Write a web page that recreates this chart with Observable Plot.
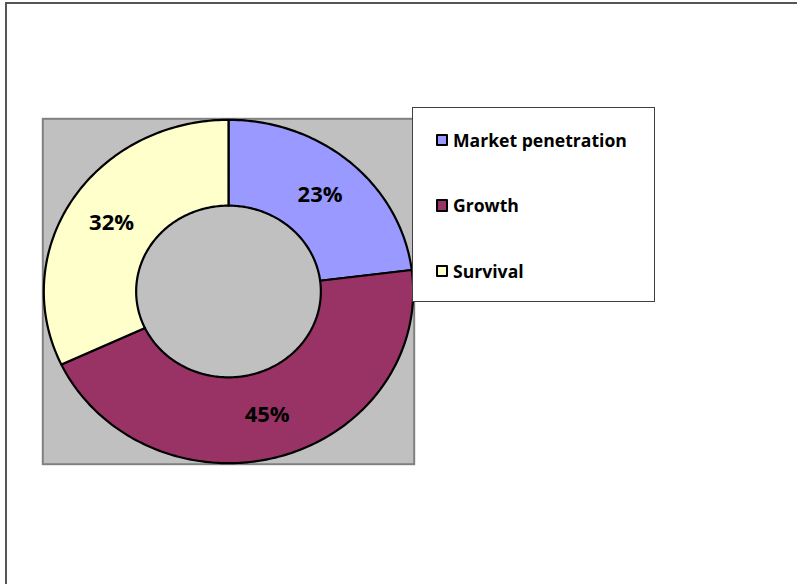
<!DOCTYPE html>
<html>
<head>
<meta charset="utf-8">
<script src="https://cdn.jsdelivr.net/npm/d3@7"></script>
<script src="https://cdn.jsdelivr.net/npm/@observablehq/plot@0.6"></script>
<style>
  html, body { margin: 0; padding: 0; background: #fff; }
  #page { position: relative; width: 797px; height: 584px; overflow: hidden; }
  #frame { position: absolute; left: 4.5px; top: 2px; width: 900px; height: 700px;
           border-left: 2px solid #555; border-top: 2px solid #555; }
  #chart { position: absolute; left: 0; top: 0; }
  #legend { position: absolute; left: 411.5px; top: 106.5px; width: 243px; height: 195px;
            border: 1px solid #404040; background: #fff; box-sizing: border-box;
            font-family: "Open Sans", sans-serif; font-weight: bold; font-size: 17.6px; color: #000; }
  .item { position: absolute; left: 23px; display: flex; align-items: center; white-space: nowrap; }
  .sw { width: 8.5px; height: 8.5px; border: 2px solid #000; border-radius: 1px; margin-right: 5px; }
</style>
</head>
<body>
<div id="page">
  <div id="frame"></div>
  <div id="chart"></div>
  <div id="legend"></div>
</div>
<script>
const categories = ["Market penetration", "Growth", "Survival"];
const values = [23, 45, 32];
const colors = ["#9999FF", "#993366", "#FFFFCC"];

const total = d3.sum(values);
let acc = 0;
const pts = [];
const labels = [];
values.forEach((v, i) => {
  const a0 = acc / total * 2 * Math.PI;
  acc += v;
  const a1 = acc / total * 2 * Math.PI;
  const n = Math.max(2, Math.ceil((a1 - a0) / (Math.PI / 180)));
  for (let k = 0; k <= n; k++) {
    const a = a0 + (a1 - a0) * k / n;
    pts.push({c: categories[i], x: Math.sin(a), y: Math.cos(a)});
  }
  for (let k = n; k >= 0; k--) {
    const a = a0 + (a1 - a0) * k / n;
    pts.push({c: categories[i], x: 0.5 * Math.sin(a), y: 0.5 * Math.cos(a)});
  }
  pts.push({c: categories[i], x: Math.sin(a0), y: Math.cos(a0)});
  const am = (a0 + a1) / 2;
  labels.push({x: 0.75 * Math.sin(am), y: 0.75 * Math.cos(am), t: Math.round(v / total * 100) + "%"});
});

const chart = Plot.plot({
  width: 797,
  height: 584,
  marginLeft: 43.3,
  marginRight: 384.3,
  marginTop: 119.3,
  marginBottom: 121.3,
  x: {domain: [-1, 1], axis: null},
  y: {domain: [-1, 1], axis: null},
  color: {domain: categories, range: colors},
  style: {background: "transparent", overflow: "visible"},
  marks: [
    Plot.frame({fill: "#C0C0C0", stroke: "#808080", strokeWidth: 2, inset: -1}),
    Plot.line(pts, {x: "x", y: "y", z: "c", fill: "c", stroke: "#000", strokeWidth: 2.2, strokeLinejoin: "round"}),
    Plot.text(labels, {x: "x", y: "y", text: "t", fontSize: 22, fontWeight: "bold", fontFamily: "Open Sans", fill: "#000"})
  ]
});
document.getElementById("chart").appendChild(chart);

const legend = document.getElementById("legend");
const rowsY = [32.5, 97.8, 163.5];
categories.forEach((c, i) => {
  const it = document.createElement("div");
  it.className = "item";
  it.style.top = (rowsY[i] - 12) + "px";
  it.style.height = "24px";
  const sw = document.createElement("div");
  sw.className = "sw";
  sw.style.background = colors[i];
  const tx = document.createElement("span");
  tx.textContent = c;
  it.appendChild(sw);
  it.appendChild(tx);
  legend.appendChild(it);
});
</script>
</body>
</html>
